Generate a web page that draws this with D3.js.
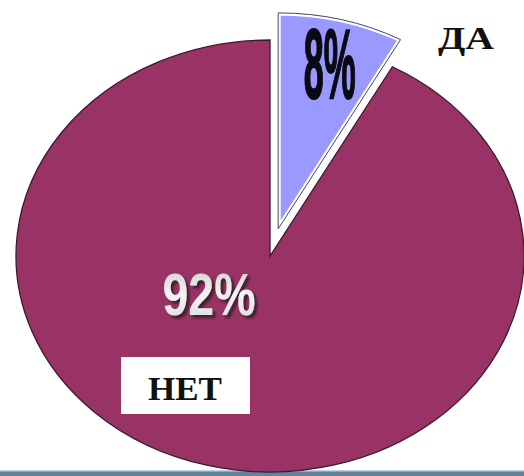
<!DOCTYPE html>
<html>
<head>
<meta charset="utf-8">
<script src="https://cdn.jsdelivr.net/npm/d3@7"></script>
<style>
  html, body { margin: 0; padding: 0; background: #fff; }
  svg { display: block; }
</style>
</head>
<body>
<svg id="chart" width="524" height="476"></svg>
<script>
  var categories = ["ДА", "НЕТ"];
  var values = [8, 92];
  var pctLabels = ["8%", "92%"];

  var width = 524, height = 476
    , cx = 270, cy = 256
    , rx = 254, ry = 216
    , explode = 28;

  var colors = d3.scaleOrdinal().domain(categories).range(["#9999ff", "#993366"]);

  var svg = d3.select("#chart");
  var defs = svg.append("defs");

  // bottom band of the slide
  svg.append("rect").attr("x", 0).attr("y", 471).attr("width", width).attr("height", 5).attr("fill", "#62839b");
  svg.append("rect").attr("x", 0).attr("y", 470).attr("width", width).attr("height", 1.5).attr("fill", "#c3d2dc");

  var pie = d3.pie().sort(null).startAngle(0).endAngle(2 * Math.PI);
  var arcs = pie(values);
  var arc = d3.arc().innerRadius(0).outerRadius(ry);

  // slices are drawn round, then stretched into the ellipse
  var slice = svg.append("g").selectAll("g.slice")
      .data(arcs)
      .enter().append("g")
      .attr("class", "slice")
      .attr("transform", function(d, i) {
        var off = i === 0 ? explode : 0;
        var mid = (d.startAngle + d.endAngle) / 2;
        var dx = Math.sin(mid) * off * rx / ry, dy = -Math.cos(mid) * off;
        return "translate(" + (cx + dx) + "," + (cy + dy) + ") scale(" + (rx / ry) + ",1)";
      });

  slice.append("path")
      .attr("d", arc)
      .attr("fill", function(d, i) { return colors(categories[i]); })
      .attr("stroke", function(d, i) { return i === 0 ? "#ffffff" : "#3a1a2a"; })
      .attr("stroke-width", function(d, i) { return i === 0 ? 5 : 1.3; })
      .attr("vector-effect", "non-scaling-stroke");

  // thin dark outline of the small slice over its white rim
  slice.filter(function(d, i) { return i === 0; }).append("path")
      .attr("d", arc)
      .attr("fill", "none")
      .attr("stroke", "#444466")
      .attr("stroke-width", 1)
      .attr("vector-effect", "non-scaling-stroke");

  // label for the small slice, squeezed narrow
  var small = arcs[0];
  var midA = (small.startAngle + small.endAngle) / 2;
  var lx = cx + Math.sin(midA) * (explode + ry * 0.8) * rx / ry;
  var ly = cy - Math.cos(midA) * (explode + ry * 0.8);
  var g8 = svg.append("g");
  var t8 = g8.append("text")
      .attr("x", 0).attr("y", 0)
      .attr("text-anchor", "middle")
      .attr("font-family", "'Liberation Sans Narrow', 'Arial Narrow', 'Liberation Sans', sans-serif")
      .attr("font-weight", "bold")
      .attr("font-size", 98)
      .attr("fill", "#0a0a14")
      .attr("stroke", "#0a0a14")
      .attr("stroke-width", 2)
      .text(pctLabels[0]);
  var w8 = t8.node().getComputedTextLength();
  g8.attr("transform", "translate(" + (lx + 1) + "," + (ly + 36) + ") scale(" + (52 / w8) + ",1)");

  // label for the big slice with a shadow
  var grad = defs.append("linearGradient").attr("id", "lightgrad")
      .attr("x1", "0%").attr("y1", "0%").attr("x2", "0%").attr("y2", "100%");
  grad.append("stop").attr("offset", "0%").attr("stop-color", "#c8c8c8");
  grad.append("stop").attr("offset", "50%").attr("stop-color", "#f4f4f4");
  grad.append("stop").attr("offset", "100%").attr("stop-color", "#d8d8d8");
  var shadow = defs.append("filter").attr("id", "shadow")
      .attr("x", "-10%").attr("y", "-10%").attr("width", "130%").attr("height", "130%");
  shadow.append("feDropShadow")
      .attr("dx", 3).attr("dy", 3).attr("stdDeviation", 1.2)
      .attr("flood-color", "#3a1a2a").attr("flood-opacity", 0.9);

  svg.append("text")
      .attr("x", 209).attr("y", 315)
      .attr("text-anchor", "middle")
      .attr("font-family", "'Liberation Sans', Arial, sans-serif")
      .attr("font-weight", "bold")
      .attr("font-size", 60)
      .attr("textLength", 93)
      .attr("lengthAdjust", "spacingAndGlyphs")
      .attr("fill", "url(#lightgrad)")
      .attr("filter", "url(#shadow)")
      .text(pctLabels[1]);

  // category names
  svg.append("text")
      .attr("x", 466).attr("y", 49)
      .attr("text-anchor", "middle")
      .attr("font-family", "'Liberation Serif', 'Times New Roman', serif")
      .attr("font-weight", "bold")
      .attr("font-size", 32)
      .attr("textLength", 56)
      .attr("lengthAdjust", "spacingAndGlyphs")
      .attr("fill", "#111")
      .text(categories[0]);

  svg.append("rect")
      .attr("x", 121).attr("y", 357).attr("width", 129).attr("height", 57)
      .attr("fill", "#ffffff");
  svg.append("text")
      .attr("x", 185).attr("y", 400)
      .attr("text-anchor", "middle")
      .attr("font-family", "'Liberation Serif', 'Times New Roman', serif")
      .attr("font-weight", "bold")
      .attr("font-size", 33)
      .attr("textLength", 74)
      .attr("lengthAdjust", "spacingAndGlyphs")
      .attr("fill", "#111")
      .text(categories[1]);
</script>
</body>
</html>
